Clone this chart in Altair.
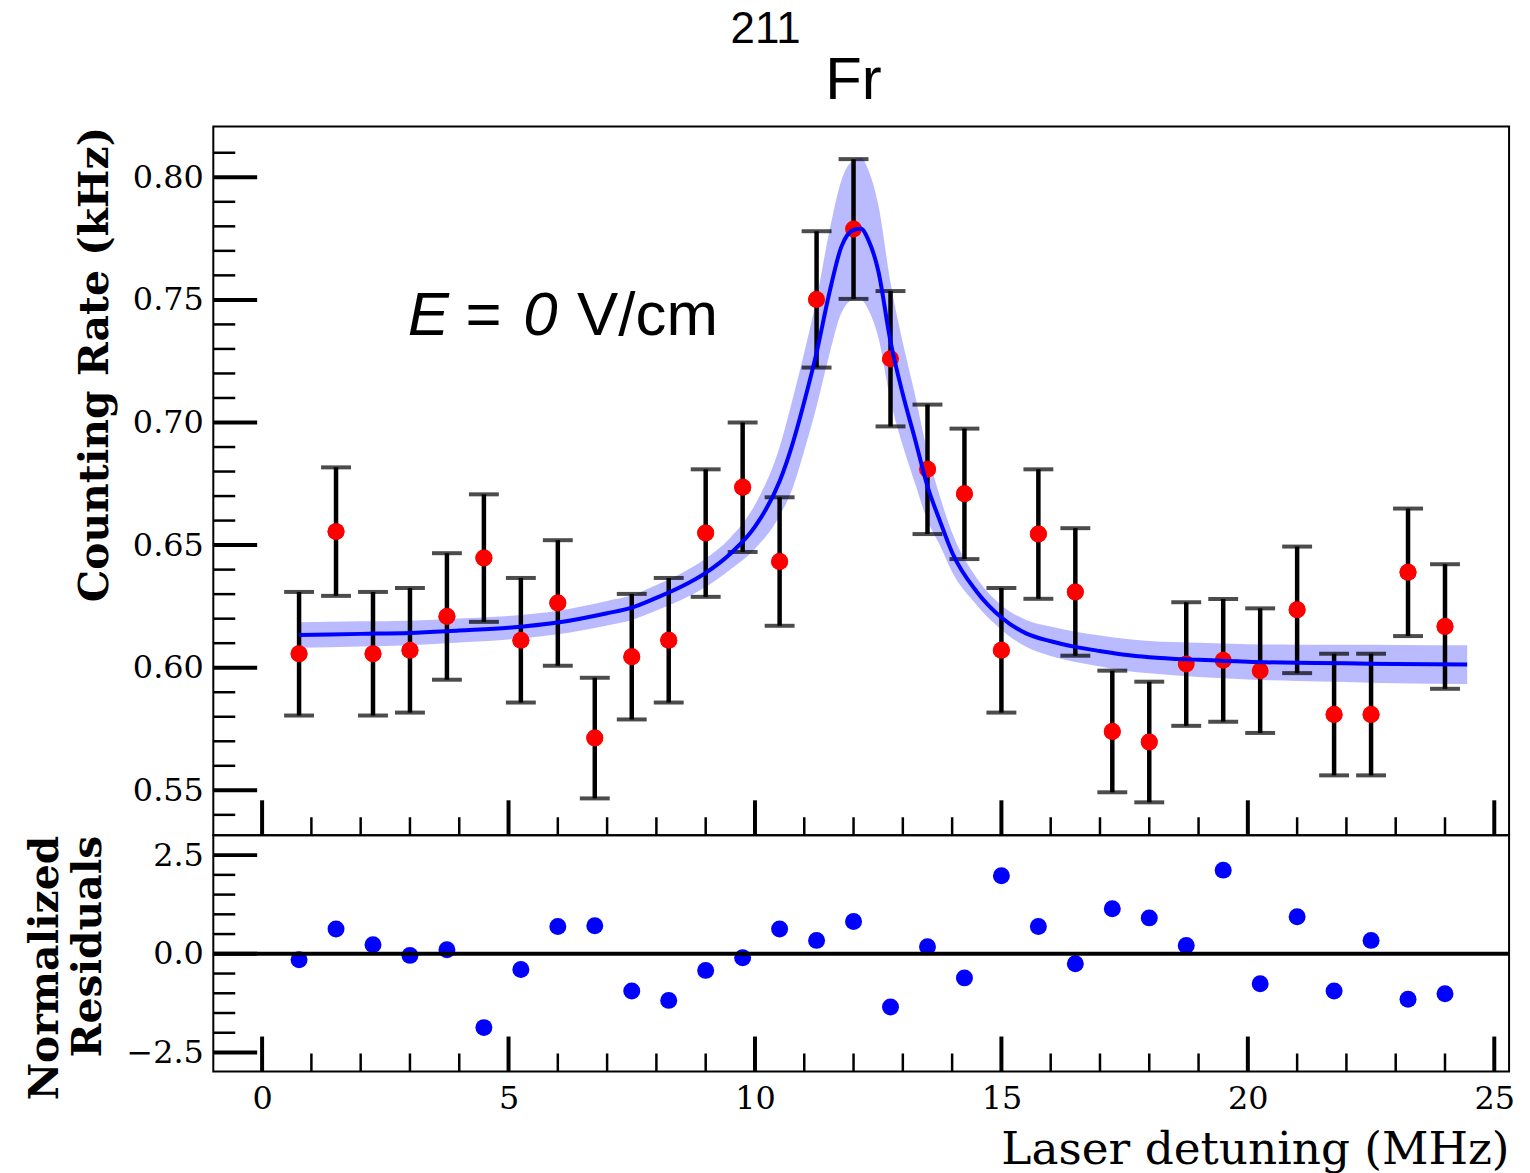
import altair as alt
import pandas as pd

# ---------------- data ----------------
detuning = [0.75, 1.5, 2.25, 3.0, 3.75, 4.5, 5.25, 6.0, 6.75, 7.5, 8.25, 9.0,
            9.75, 10.5, 11.25, 12.0, 12.75, 13.5, 14.25, 15.0, 15.75, 16.5,
            17.25, 18.0, 18.75, 19.5, 20.25, 21.0, 21.75, 22.5, 23.25, 24.0]
rate = [0.6057, 0.6555, 0.6057, 0.6071, 0.6209, 0.6447, 0.6112, 0.6264,
        0.5713, 0.6045, 0.6112, 0.6549, 0.6736, 0.6433, 0.7502, 0.7789,
        0.7260, 0.6809, 0.6709, 0.6071, 0.6545, 0.6309, 0.5740, 0.5697,
        0.6015, 0.6030, 0.5988, 0.6236, 0.5809, 0.5809, 0.6389, 0.6168]
rate_err = [0.0252, 0.0262, 0.0252, 0.0254, 0.0258, 0.0260, 0.0254, 0.0256,
            0.0246, 0.0256, 0.0254, 0.0260, 0.0264, 0.0262, 0.0278, 0.0285,
            0.0276, 0.0264, 0.0266, 0.0254, 0.0264, 0.0260, 0.0248, 0.0246,
            0.0252, 0.0250, 0.0254, 0.0258, 0.0248, 0.0248, 0.0260, 0.0254]
residual = [-0.15, 0.63, 0.23, -0.04, 0.10, -1.87, -0.40, 0.69, 0.71, -0.94,
            -1.18, -0.42, -0.10, 0.63, 0.34, 0.82, -1.35, 0.18, -0.61, 1.98,
            0.69, -0.25, 1.14, 0.91, 0.21, 2.12, -0.76, 0.94, -0.94, 0.34,
            -1.15, -1.01]

fit_x = [0.75, 2.0, 3.0, 4.0, 5.0, 6.0, 7.0, 7.5, 8.0, 8.5, 9.0, 9.5, 10.0,
         10.5, 10.75, 11.0, 11.25, 11.5, 11.75, 12.0, 12.15, 12.3, 12.5,
         12.75, 13.0, 13.25, 13.5, 13.75, 14.0, 14.5, 15.0, 15.5, 16.0, 16.5,
         17.0, 17.5, 18.0, 19.0, 20.0, 21.0, 22.0, 23.0, 24.45]
fit_y = [0.6133, 0.6138, 0.6142, 0.6152, 0.6163, 0.6184, 0.6222, 0.6245,
         0.6285, 0.6330, 0.6387, 0.6465, 0.6575, 0.6760, 0.6905, 0.7085,
         0.7285, 0.7520, 0.7715, 0.7785, 0.7790, 0.7745, 0.7620, 0.7330,
         0.7115, 0.6930, 0.6740, 0.6600, 0.6470, 0.6310, 0.6205, 0.6140,
         0.6108, 0.6085, 0.6068, 0.6053, 0.6043, 0.6032, 0.6024, 0.6020,
         0.6018, 0.6015, 0.6013]
fit_band = [0.0052, 0.0051, 0.0050, 0.0049, 0.0048, 0.0048, 0.0050, 0.0050,
            0.0052, 0.0054, 0.0058, 0.0065, 0.0090, 0.0140, 0.0180, 0.0200,
            0.0220, 0.0250, 0.0270, 0.0285, 0.0290, 0.0285, 0.0270, 0.0240,
            0.0210, 0.0180, 0.0140, 0.0100, 0.0080, 0.0055, 0.0050, 0.0055,
            0.0060, 0.0062, 0.0063, 0.0065, 0.0066, 0.0070, 0.0072, 0.0074,
            0.0076, 0.0078, 0.0079]

x_major = [0, 5, 10, 15, 20, 25]
x_minor = [1, 2, 3, 4, 6, 7, 8, 9, 11, 12, 13, 14, 16, 17, 18, 19, 21, 22, 23, 24]
y_major = [0.55, 0.60, 0.65, 0.70, 0.75, 0.80]
y_minor = [0.54, 0.56, 0.57, 0.58, 0.59, 0.61, 0.62, 0.63, 0.64, 0.66, 0.67,
           0.68, 0.69, 0.71, 0.72, 0.73, 0.74, 0.76, 0.77, 0.78, 0.79, 0.81]
r_major = [-2.5, 0.0, 2.5]
r_minor = [-2.0, -1.5, -1.0, -0.5, 0.5, 1.0, 1.5, 2.0]

title_mass = "211"
title_elem = "Fr"
field_parts = ["E", "=", "0", "V/cm"]

# ---------------- tables ----------------
pts = pd.DataFrame({"x": detuning, "y": rate, "e": rate_err, "r": residual})
pts["lo"] = pts["y"] - pts["e"]
pts["hi"] = pts["y"] + pts["e"]
fit = pd.DataFrame({"x": fit_x, "y": fit_y, "b": fit_band})
fit["lo"] = fit["y"] - fit["b"]
fit["hi"] = fit["y"] + fit["b"]

W, H1, H2 = 1300, 711, 237
SERIF = "DejaVu Serif"
SANS = "Liberation Sans"

xs = alt.Scale(domain=[-0.99, 25.30], nice=False, zero=False)
ys = alt.Scale(domain=[0.5317, 0.8207], nice=False, zero=False)
rs = alt.Scale(domain=[-2.98, 3.005], nice=False, zero=False)

common = dict(labelFont=SERIF, labelFontSize=32, labelColor="black",
              titleColor="black", titleFont=SERIF, ticks=False, domain=False,
              grid=False, labelOverlap=False, titleAnchor="end")

y_axis = alt.Axis(values=y_major, format=".2f", title="Counting Rate (kHz)",
                  labelPadding=10, titleFontWeight="bold", titleFontSize=41,
                  titlePadding=16, **common)
r_axis = alt.Axis(values=r_major, format=".1f", title=["Normalized", "Residuals"],
                  labelPadding=10, titleFontWeight="bold", titleFontSize=41,
                  titlePadding=16, titleLineHeight=44, **common)
x_axis = alt.Axis(values=x_major, format="d", title="Laser detuning (MHz)",
                  labelPadding=12, titleFontWeight="normal", titleFontSize=45.5,
                  titlePadding=13, labelFlush=False, **common)

NOAX = None
DEF = alt.Undefined

base = alt.Chart(pts)
fitc = alt.Chart(fit)

dots = base.mark_circle(color="#ff0000", opacity=1, size=290).encode(
    x=alt.X("x:Q", scale=xs, axis=None),
    y=alt.Y("y:Q", scale=ys, axis=y_axis))
band = fitc.mark_area(color="#babaff", opacity=1, interpolate="monotone").encode(
    x=alt.X("x:Q", scale=xs, axis=None),
    y=alt.Y("lo:Q", scale=ys, axis=None),
    y2="hi:Q")
bars = base.mark_rule(color="black", strokeWidth=4.5).encode(
    x=alt.X("x:Q", scale=xs, axis=None),
    y=alt.Y("lo:Q", scale=ys, axis=None), y2="hi:Q")
cap_lo = base.mark_tick(color="black", orient="horizontal", size=30, thickness=4).encode(
    x=alt.X("x:Q", scale=xs, axis=None), y=alt.Y("lo:Q", scale=ys, axis=None))
cap_hi = base.mark_tick(color="black", orient="horizontal", size=30, thickness=4).encode(
    x=alt.X("x:Q", scale=xs, axis=None), y=alt.Y("hi:Q", scale=ys, axis=None))
dots2 = base.mark_circle(color="#ff0000", opacity=1, size=290).encode(
    x=alt.X("x:Q", scale=xs, axis=None), y=alt.Y("y:Q", scale=ys, axis=None))
line = fitc.mark_line(color="#0000ff", strokeWidth=4, interpolate="monotone").encode(
    x=alt.X("x:Q", scale=xs, axis=None), y=alt.Y("y:Q", scale=ys, axis=None))


def yticks(vals, scale, length, width, ax=NOAX):
    return alt.Chart(pd.DataFrame({"v": vals})).mark_rule(
        color="black", strokeWidth=width).encode(
        y=alt.Y("v:Q", scale=scale, axis=ax),
        x=alt.value(0), x2=alt.value(length))


def xticks(vals, h, length, width, ax=NOAX):
    return alt.Chart(pd.DataFrame({"v": vals})).mark_rule(
        color="black", strokeWidth=width).encode(
        x=alt.X("v:Q", scale=xs, axis=ax),
        y=alt.value(h), y2=alt.value(h - length))


def label(text, x, y, size, style="normal"):
    return alt.Chart(pd.DataFrame({"t": [text]})).mark_text(
        font=SANS, fontSize=size, fontStyle=style, align="left",
        baseline="alphabetic", color="black").encode(
        text="t:N", x=alt.value(x), y=alt.value(y))


top = alt.layer(
    dots, band, bars, cap_lo, cap_hi, dots2, line,
    yticks(y_major, ys, 44, 4), yticks(y_minor, ys, 22, 2.5),
    xticks(x_major, H1, 35, 4), xticks(x_minor, H1, 18, 2.5),
    label(field_parts[0], 195, 209, 62, "italic"),
    label(field_parts[1], 253, 209, 62),
    label(field_parts[2], 311, 209, 62, "italic"),
    label(field_parts[3], 365, 209, 62),
    label(title_mass, 519, -84, 44),
    label(title_elem, 614, -28, 60),
).resolve_axis(x="independent", y="independent").properties(width=W, height=H1)

rbase = alt.Chart(pts)
rdots = rbase.mark_circle(color="#0000ff", opacity=1, size=290).encode(
    x=alt.X("x:Q", scale=xs, axis=x_axis), y=alt.Y("r:Q", scale=rs, axis=r_axis))
zero = alt.Chart(pd.DataFrame({"z": [0.0]})).mark_rule(color="black", strokeWidth=4).encode(
    y=alt.Y("z:Q", scale=rs))

bottom = alt.layer(
    rdots, zero,
    yticks(r_major, rs, 44, 4, DEF), yticks(r_minor, rs, 22, 2.5, DEF),
    xticks(x_major, H2, 35, 4, DEF), xticks(x_minor, H2, 18, 2.5, DEF),
).properties(width=W, height=H2)

chart = alt.vconcat(top, bottom, spacing=0, bounds="flush").properties(
    padding={"left": 23, "top": 5, "right": 14, "bottom": 3}
).configure_view(stroke="black", strokeWidth=2)

chart.save("out.html", embed_options={"renderer": "svg", "actions": False})
